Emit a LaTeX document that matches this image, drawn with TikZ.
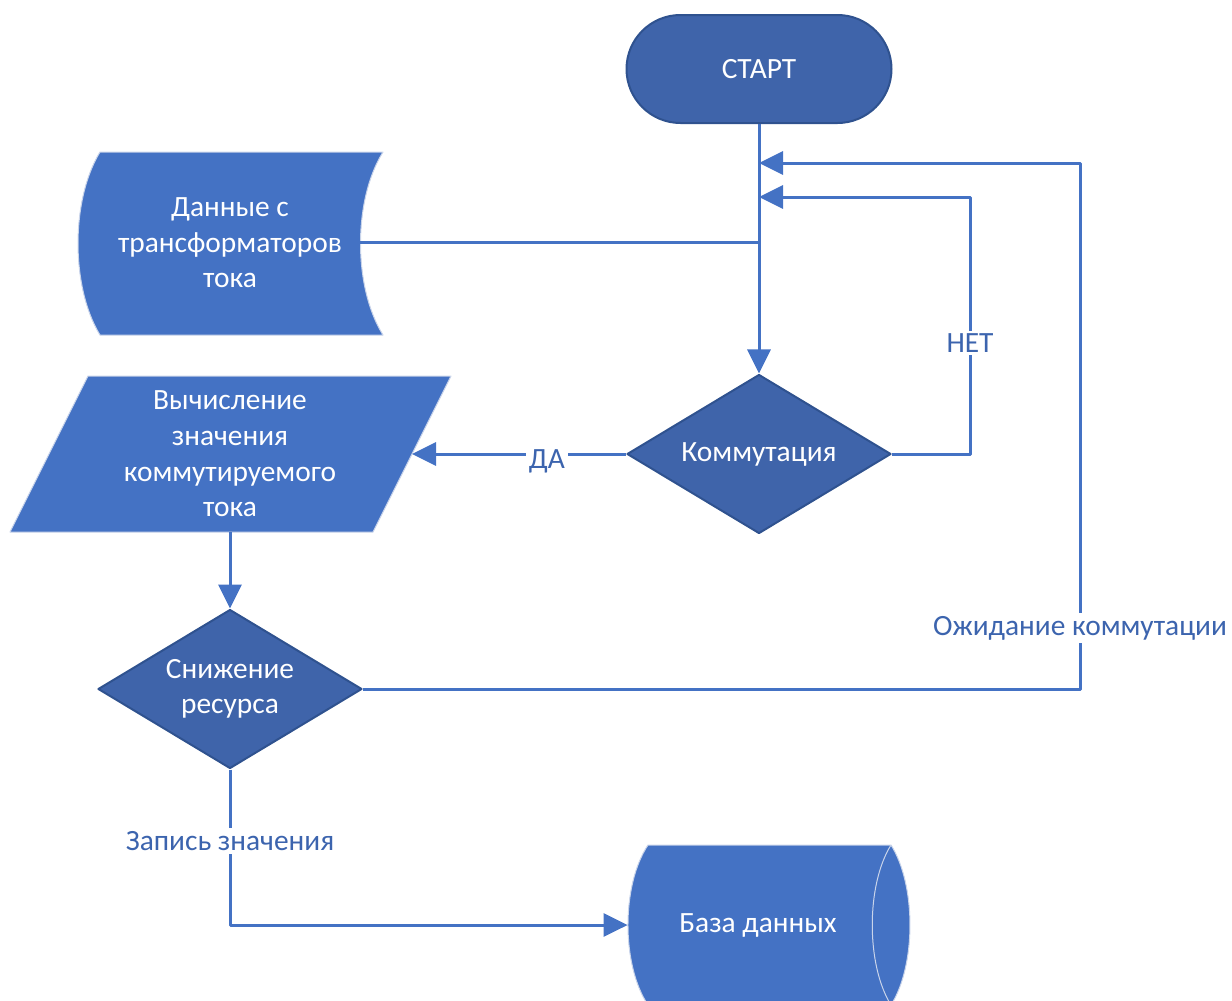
\documentclass[tikz,border=0pt]{standalone}
\usepackage{fontspec}
\setmainfont{Carlito}
\usetikzlibrary{shapes.geometric, arrows.meta, calc}
\definecolor{mBlue}{HTML}{4472C4}
\definecolor{mDarkBlue}{HTML}{3F64AA}
\definecolor{mEdge}{HTML}{2F528F}
\definecolor{mRim}{HTML}{C9D4EA}
\definecolor{mLabel}{HTML}{3C64AE}
\def\px{0.5pt}

\begin{document}
\begin{tikzpicture}[x=\px, y=-\px, line join=round]
  \tikzstyle{every node}=[font=\fontsize{14.7}{17.8}\selectfont]
  \tikzstyle{shapetext}=[text=white, align=center, inner sep=0pt]
  \tikzstyle{flow}=[mBlue, line width=1.5pt, -{Triangle[length=12pt, width=11.5pt]}]
  \tikzstyle{joinline}=[mBlue, line width=1.5pt]
  \tikzstyle{lbl}=[fill=white, text=mLabel, inner sep=1.5pt]
  \tikzstyle{terminal}=[shapetext, draw=mEdge, line width=1pt, fill=mDarkBlue,
    rounded corners=27pt, minimum width=265*\px, minimum height=108*\px]
  \tikzstyle{decision}=[shapetext, diamond, aspect=1.66, draw=mEdge, line width=1pt,
    fill=mDarkBlue, minimum width=264*\px, minimum height=159*\px]
  \tikzstyle{block}=[mBlue, draw=mRim, line width=0.5pt]

  \clip (0,0) rectangle (1232,1001);

  % start
  \node[terminal] (start) at (759,69) {СТАРТ};

  % input data
  \filldraw[block] (100,152) -- (383,152) .. controls (353,200) and (353,287) .. (383,335)
    -- (100,335) .. controls (70.7,287) and (70.7,200) .. cycle;
  \node[shapetext] (data) at (230,243) {Данные с\\трансформаторов\\тока};
  \coordinate (data-out) at (360,242);

  % calculation
  \filldraw[block] (88,376) -- (451,376) -- (373,532) -- (10,532) -- cycle;
  \node[shapetext, minimum height=156*\px] (calc) at (230,454)
    {Вычисление\\значения\\коммутируемого\\тока};
  \coordinate (calc-in) at (412,454);

  % decisions
  \node[decision] (komm) at (759,454) {Коммутация};
  \node[decision] (sniz) at (230,689) {Снижение\\ресурса};

  % database
  \filldraw[block] (648,845) -- (891,845) .. controls (916.3,885) and (916.3,965) .. (891,1005)
    -- (648,1005) .. controls (621.3,965) and (621.3,885) .. cycle;
  \draw[mRim, line width=0.5pt] (891,845) .. controls (866,885) and (866,965) .. (891,1005);
  \node[shapetext, minimum width=260*\px] (db) at (758,925) {База данных};

  % joins on the main line
  \coordinate (join-wait) at (759,163);
  \coordinate (join-net) at (759,197);
  \coordinate (join-data) at (759,242);
  \coordinate (net-corner) at (970,197);
  \coordinate (wait-corner) at (1080,163);

  % connectors
  \draw[flow] (start) -- (komm);
  \draw[joinline] (data-out) -- (join-data);
  \draw[flow] (komm) -- node[lbl, pos=0.37, yshift=-3.5pt] {ДА} (calc-in);
  \draw[flow] (komm.east) -| node[lbl, pos=0.716] {НЕТ} (net-corner) -- (join-net);
  \draw[flow] (calc) -- (sniz);
  \draw[flow] (sniz.east) -| node[lbl, pos=0.558] {Ожидание коммутации} (wait-corner) -- (join-wait);
  \draw[flow] (sniz.south) |- node[lbl, pos=0.23] {Запись значения} (db.west);
\end{tikzpicture}
\end{document}
